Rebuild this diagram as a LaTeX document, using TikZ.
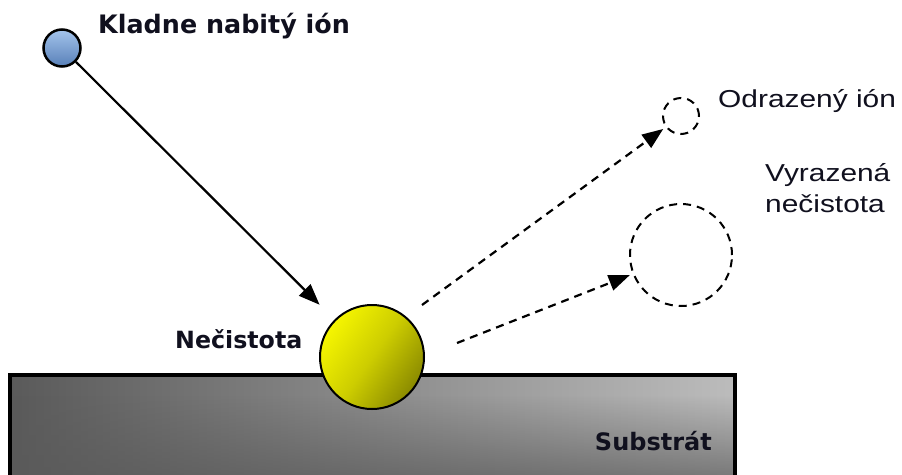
\documentclass[tikz,border=0pt]{standalone}
\usepackage{fontspec}
\usetikzlibrary{arrows.meta,fadings}
\newfontfamily\labfont{DejaVu Sans}
\newfontfamily\regfont[FakeStretch=1.22]{Liberation Sans}
\definecolor{txt}{HTML}{10101E}
\definecolor{ionlight}{HTML}{A4C4EC}
\definecolor{iondark}{HTML}{5880B8}
\definecolor{ylight}{HTML}{F6F600}
\definecolor{ymid}{HTML}{CDCD00}
\definecolor{ydark}{HTML}{8A8A00}
\definecolor{sdark}{HTML}{5A5A5A}
\definecolor{slight}{HTML}{BCBCBC}
\tikzset{
  boldlab/.style={inner sep=0pt, text=txt, font=\labfont\bfseries\fontsize{#1}{#1}\selectfont},
  reglab/.style={inner sep=0pt, text=txt, align=left, font=\regfont\fontsize{24.5}{31}\selectfont},
  tipstyle/.style={-{Triangle[length=21pt,width=16pt]}},
  solidarrow/.style={tipstyle, line width=2.2pt, black},
  dasharrow/.style={tipstyle, line width=2.2pt, black, dash pattern=on 8pt off 6pt},
  ghost/.style={circle, draw=black, line width=2pt, dash pattern=on 8pt off 6pt, inner sep=0pt},
}
\begin{document}
\begin{tikzpicture}[x=1pt,y=-1pt]
\clip (0,0) rectangle (902,474);
\fill[white] (0,0) rectangle (902,474);
% substrate
\shade[left color=sdark, right color=slight] (10,375) rectangle (735,490);
\fill[sdark, path fading=north, fill opacity=0.8] (10,395) rectangle (735,490);
\draw[line width=3.5pt, black] (10,490) -- (10,375) -- (735,375) -- (735,490);
\node[boldlab=24, anchor=base east] (subl) at (712,450) {Substrát};
% impurity sphere
\node[circle, minimum size=104pt, inner sep=0pt, draw=black, line width=2pt,
      left color=ylight, right color=ydark, middle color=ymid, shading angle=55] (imp) at (372,357) {};
% incident ion
\node[circle, minimum size=37pt, inner sep=0pt, draw=black, line width=2.5pt,
      top color=ionlight, bottom color=iondark] (ion) at (62,48) {};
% ghost particles
\node[ghost, minimum size=36pt] (refl) at (681,116) {};
\node[ghost, minimum size=102pt] (ejec) at (681,255) {};
% start points of the dashed trajectories
\coordinate (s1) at (422,305);
\coordinate (s2) at (457,343);
% arrows
\draw[solidarrow, shorten >=21pt] (ion) -- (imp);
\draw[dasharrow, shorten >=3pt] (s1) -- (refl);
\draw[dasharrow, shorten >=3pt] (s2) -- (ejec);
% labels
\node[boldlab=25.4, anchor=base west] (ionl) at (98,33) {Kladne nabitý ión};
\node[boldlab=23.7, anchor=base west] (impl) at (175,348) {Nečistota};
\node[reglab, anchor=base west] (refll) at (718,107) {Odrazený ión};
\node[reglab, anchor=base west] (ejecl) at (765,212) {Vyrazená\\nečistota};
\end{tikzpicture}
\end{document}
